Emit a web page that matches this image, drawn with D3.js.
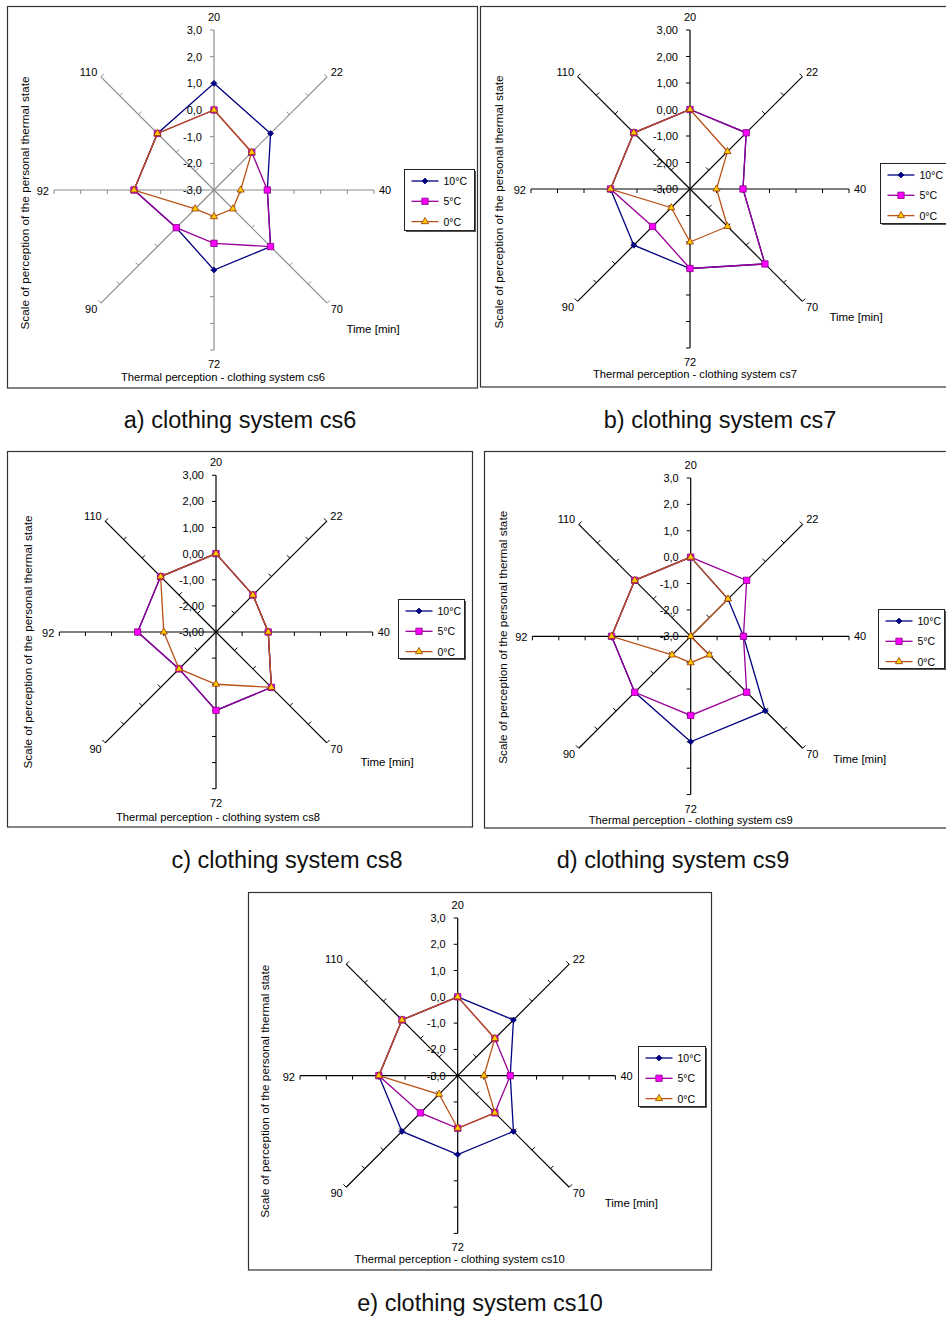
<!DOCTYPE html>
<html>
<head>
<meta charset="utf-8">
<script src="https://cdn.jsdelivr.net/npm/d3@7"></script>
<style>
  html, body { margin: 0; padding: 0; background: #fff; }
  svg { display: block; font-family: "Liberation Sans", Arial, sans-serif; }
</style>
</head>
<body>
<svg id="chart" width="946" height="1318"></svg>
<script>
// categories (time in minutes) and series names
const times = ["20", "22", "40", "70", "72", "90", "92", "110"];
const temps = ["10°C", "5°C", "0°C"];
const scaleTicks = [-3, -2, -1, 0, 1, 2, 3];

// thermal perception values, one array per clothing system and temperature
const cs6_10 = [1, 0, -1, 0, 0, -1, 0, 0];
const cs6_5 = [0, -1, -1, 0, -1, -1, 0, 0];
const cs6_0 = [0, -1, -2, -2, -2, -2, 0, 0];

const cs7_10 = [0, 0, -1, 1, 0, 0, 0, 0];
const cs7_5 = [0, 0, -1, 1, 0, -1, 0, 0];
const cs7_0 = [0, -1, -2, -1, -1, -2, 0, 0];

const cs8_10 = [0, -1, -1, 0, 0, -1, 0, 0];
const cs8_5 = [0, -1, -1, 0, 0, -1, 0, 0];
const cs8_0 = [0, -1, -1, 0, -1, -1, -1, 0];

const cs9_10 = [0, -1, -1, 1, 1, 0, 0, 0];
const cs9_5 = [0, 0, -1, 0, 0, 0, 0, 0];
const cs9_0 = [0, -1, -3, -2, -2, -2, 0, 0];

const cs10_10 = [0, 0, -1, 0, 0, 0, 0, 0];
const cs10_5 = [0, -1, -1, -1, -1, -1, 0, 0];
const cs10_0 = [0, -1, -2, -1, -1, -2, 0, 0];

// panel layout
const panels = [
  { name: "cs6", caption: "a) clothing system cs6", series: [cs6_10, cs6_5, cs6_0],
    cx: 214, cy: 190, R: 160, frame: [7.5, 6.5, 470, 381.5], axisColor: "#8c8c8c", dec: 1,
    legend: [404.5, 169.5, 70, 61], yt: [-189, 13], tt: [9, 187], tm: [159, 139], cap: [240, 428] },
  { name: "cs7", caption: "b) clothing system cs7", series: [cs7_10, cs7_5, cs7_0],
    cx: 690, cy: 189, R: 159, frame: [480.5, 6.5, 480, 380.5], axisColor: "#000", dec: 2,
    legend: [880.5, 163.5, 80, 60], yt: [-191.5, 13], tt: [5, 185], tm: [166, 128], cap: [720, 428] },
  { name: "cs8", caption: "c) clothing system cs8", series: [cs8_10, cs8_5, cs8_0],
    cx: 216, cy: 632, R: 156.7, frame: [7.5, 451.5, 465, 375.5], axisColor: "#000", dec: 2,
    legend: [398.5, 599.5, 66, 59], yt: [-188, 10], tt: [2, 185], tm: [171, 130], cap: [287, 868] },
  { name: "cs9", caption: "d) clothing system cs9", series: [cs9_10, cs9_5, cs9_0],
    cx: 690.7, cy: 636.3, R: 158.3, frame: [484.5, 451.5, 480, 376.5], axisColor: "#000", dec: 1,
    legend: [878.5, 609.5, 66, 59], yt: [-188, 1], tt: [0, 183.5], tm: [169, 123], cap: [673, 868] },
  { name: "cs10", caption: "e) clothing system cs10", series: [cs10_10, cs10_5, cs10_0],
    cx: 457.7, cy: 1075.7, R: 157.7, frame: [248.5, 892.5, 463, 377.5], axisColor: "#000", dec: 1,
    legend: [638.5, 1046.5, 67, 60], yt: [-192.7, 15.6], tt: [2, 183], tm: [173.6, 127], cap: [480, 1311] }
];

const seriesStyle = [
  { line: "#000080", fill: "#000080", stroke: "#000080", symbol: d3.symbolDiamond2, size: 22 },
  { line: "#990099", fill: "#ff00ff", stroke: "#800080", symbol: d3.symbolSquare, size: 40 },
  { line: "#b9521a", fill: "#ffcc00", stroke: "#993300", symbol: d3.symbolTriangle, size: 22 }
];

const locale = d3.formatLocale({ decimal: ",", thousands: ".", grouping: [3], currency: ["", ""], minus: "-" });

const svg = d3.select("#chart");

const angle = d3.scaleBand().domain(times).range([0, 2 * Math.PI]);

panels.forEach(p => {
  const g = svg.append("g");
  const r = d3.scaleLinear().domain([-3, 3]).range([0, p.R]);
  const fmt = locale.format("." + p.dec + "f");
  const pt = (t, v) => {
    const [x, y] = d3.pointRadial(angle(t), r(v));
    return [p.cx + x, p.cy + y];
  };

  // frame
  g.append("rect")
    .attr("x", p.frame[0]).attr("y", p.frame[1])
    .attr("width", p.frame[2]).attr("height", p.frame[3])
    .attr("fill", "#fff").attr("stroke", "#333").attr("stroke-width", 1.2);

  // spokes + tick marks
  times.forEach(t => {
    const a = angle(t);
    const [x1, y1] = pt(t, -3);
    const [x2, y2] = pt(t, 3);
    g.append("line")
      .attr("x1", x1).attr("y1", y1).attr("x2", x2).attr("y2", y2)
      .attr("stroke", p.axisColor).attr("stroke-width", 1.2);
    const sx = Math.sin(a), sy = -Math.cos(a);
    let nx, ny;
    if (Math.abs(sx) < 0.1) { nx = -1; ny = 0; }
    else if (Math.abs(sy) < 0.1) { nx = 0; ny = 1; }
    else { nx = -sy; ny = sx; if (ny > 0) { nx = -nx; ny = -ny; } }
    scaleTicks.slice(1).forEach(v => {
      const [tx, ty] = pt(t, v);
      g.append("line")
        .attr("x1", tx).attr("y1", ty)
        .attr("x2", tx + nx * 4).attr("y2", ty + ny * 4)
        .attr("stroke", p.axisColor).attr("stroke-width", 1);
    });
    // category label
    const k = Math.abs(sx) < 0.1 ? 13 : 7;
    const lx = x2 + sx * (Math.abs(sx) < 0.1 ? 0 : 5);
    const ly = y2 + sy * k + (sy > 0 ? 1 : 0);
    g.append("text")
      .attr("x", lx).attr("y", ly)
      .attr("text-anchor", Math.abs(sx) < 0.1 ? "middle" : (sx > 0 ? "start" : "end"))
      .attr("dominant-baseline", "central")
      .attr("font-size", 11).attr("fill", "#000")
      .text(t);
  });

  // radial scale labels
  g.selectAll(".tl").data(scaleTicks).enter().append("text")
    .attr("x", p.cx - 12)
    .attr("y", d => p.cy - r(d))
    .attr("text-anchor", "end")
    .attr("dominant-baseline", "central")
    .attr("font-size", 11)
    .text(d => fmt(d));

  // series
  const line = d3.lineRadial()
    .angle((d, i) => angle(times[i]))
    .radius(d => r(d))
    .curve(d3.curveLinearClosed);

  p.series.forEach((vals, si) => {
    const st = seriesStyle[si];
    g.append("path")
      .attr("transform", `translate(${p.cx},${p.cy})`)
      .attr("d", line(vals))
      .attr("fill", "none").attr("stroke", st.line).attr("stroke-width", 1.3);
    g.selectAll(".m" + si).data(vals).enter().append("path")
      .attr("transform", (d, i) => {
        const [x, y] = pt(times[i], d);
        return `translate(${x},${y})`;
      })
      .attr("d", d3.symbol().type(st.symbol).size(st.size))
      .attr("fill", st.fill).attr("stroke", st.stroke).attr("stroke-width", 0.8);
  });

  // titles
  g.append("text")
    .attr("transform", `translate(${p.cx + p.yt[0]},${p.cy + p.yt[1]}) rotate(-90)`)
    .attr("text-anchor", "middle").attr("dominant-baseline", "central")
    .attr("font-size", 11.5).attr("textLength", 253).attr("lengthAdjust", "spacingAndGlyphs")
    .text("Scale of perception of the personal thermal state");
  g.append("text")
    .attr("x", p.cx + p.tt[0]).attr("y", p.cy + p.tt[1])
    .attr("text-anchor", "middle").attr("dominant-baseline", "central")
    .attr("font-size", 11.2)
    .text("Thermal perception - clothing system " + p.name);
  g.append("text")
    .attr("x", p.cx + p.tm[0]).attr("y", p.cy + p.tm[1])
    .attr("text-anchor", "middle").attr("dominant-baseline", "central")
    .attr("font-size", 11.5)
    .text("Time [min]");

  // legend
  const [lx, ly, lw, lh] = p.legend;
  const lg = g.append("g");
  lg.append("rect")
    .attr("x", lx + 1.5).attr("y", ly + 1.5).attr("width", lw).attr("height", lh)
    .attr("fill", "#555");
  lg.append("rect")
    .attr("x", lx).attr("y", ly).attr("width", lw).attr("height", lh)
    .attr("fill", "#fff").attr("stroke", "#222").attr("stroke-width", 1);
  temps.forEach((name, i) => {
    const st = seriesStyle[i];
    const yy = ly + 11.5 + i * 20.3;
    lg.append("line")
      .attr("x1", lx + 7).attr("x2", lx + 34).attr("y1", yy).attr("y2", yy)
      .attr("stroke", st.line).attr("stroke-width", 1.3);
    lg.append("path")
      .attr("transform", `translate(${lx + 20.5},${yy})`)
      .attr("d", d3.symbol().type(st.symbol).size(st.size))
      .attr("fill", st.fill).attr("stroke", st.stroke).attr("stroke-width", 0.8);
    lg.append("text")
      .attr("x", lx + 39).attr("y", yy)
      .attr("dominant-baseline", "central")
      .attr("font-size", 10.5)
      .text(name);
  });

  // caption below panel
  svg.append("text")
    .attr("x", p.cap[0]).attr("y", p.cap[1])
    .attr("text-anchor", "middle")
    .attr("font-size", 23.5)
    .attr("fill", "#111")
    .text(p.caption);
});
</script>
</body>
</html>
